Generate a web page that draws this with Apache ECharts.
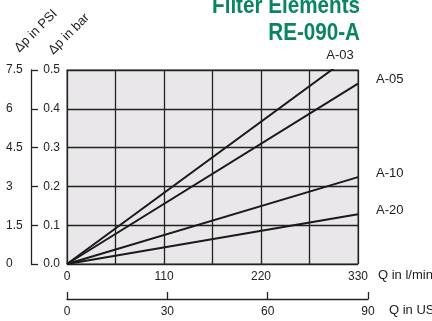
<!DOCTYPE html>
<html>
<head>
<meta charset="utf-8">
<script src="https://cdn.jsdelivr.net/npm/echarts@6/dist/echarts.min.js"></script>
<style>
  html, body { margin: 0; padding: 0; background: #fff; }
  #chart { width: 432px; height: 321px; }
</style>
</head>
<body>
<div id="chart"></div>
<script>
// flow in l/min, pressure drop in bar (straight lines from origin)
const seriesNames = ['A-03', 'A-05', 'A-10', 'A-20'];
const flowPoints = [0, 330];
const dpA03 = [0, 0.55];
const dpA05 = [0, 0.465];
const dpA10 = [0, 0.224];
const dpA20 = [0, 0.128];

const psiTicks = [0, 1.5, 3, 4.5, 6, 7.5];
const gpmTicks = [0, 30, 60, 90];

const font = '"Liberation Sans", Arial, sans-serif';
const green = '#0b8464';

const chart = echarts.init(document.getElementById('chart'));

function pairs(ys) {
  return flowPoints.map((x, i) => [x, ys[i]]);
}

const allDp = [dpA03, dpA05, dpA10, dpA20];

const option = {
  animation: false,
  textStyle: { fontFamily: font },
  grid: [
    {
      left: 67, right: 74, top: 70, bottom: 57, outerBoundsMode: 'none',
      show: true, backgroundColor: '#e9e7e9', borderColor: '#7a7a7a', borderWidth: 1.5
    },
    { left: 67, right: 64, top: 70, bottom: 22, outerBoundsMode: 'none' }
  ],
  xAxis: [
    {
      type: 'value', gridIndex: 0, min: 0, max: 330, interval: 55,
      name: 'Q in l/min', nameLocation: 'end', nameGap: 20,
      nameTextStyle: { fontSize: 13, color: '#222', fontFamily: font, verticalAlign: 'top', padding: [5, 0, 0, 0] },
      axisLine: { show: false }, axisTick: { show: false },
      splitLine: { lineStyle: { color: '#222', width: 1.3 } },
      axisLabel: {
        fontSize: 12, color: '#222', margin: 7,
        formatter: v => (v % 110 === 0 ? String(v) : '')
      }
    },
    {
      type: 'value', gridIndex: 1, min: 0, max: 90, interval: 30,
      name: 'Q in US GPM', nameLocation: 'end', nameGap: 21,
      nameTextStyle: { fontSize: 13, color: '#222', fontFamily: font, verticalAlign: 'top', padding: [5, 0, 0, 0] },
      axisLine: { show: true, lineStyle: { color: '#222', width: 1.3 } },
      axisTick: { show: true, inside: true, length: 7, lineStyle: { color: '#222', width: 1.3 } },
      splitLine: { show: false },
      axisLabel: { fontSize: 12, color: '#222', margin: 7 }
    }
  ],
  yAxis: [
    {
      type: 'value', gridIndex: 0, min: 0, max: 0.5, interval: 0.1,
      axisLine: { show: false }, axisTick: { show: false },
      splitLine: { lineStyle: { color: '#222', width: 1.3 } },
      axisLabel: { fontSize: 12, color: '#222', margin: 7, formatter: v => v.toFixed(1) }
    },
    {
      type: 'value', gridIndex: 0, min: 0, max: 7.5, interval: 1.5,
      position: 'left', offset: 36,
      axisLine: { show: true, lineStyle: { color: '#222', width: 1.3 } },
      axisTick: { show: true, inside: true, length: 7, lineStyle: { color: '#222', width: 1.3 } },
      splitLine: { show: false },
      axisLabel: {
        fontSize: 12, color: '#222', margin: 25, align: 'left',
        formatter: v => (psiTicks.includes(v) ? String(v) : '')
      }
    },
    { type: 'value', gridIndex: 1, show: false, min: 0, max: 1 }
  ],
  series: seriesNames.map((name, i) => ({
    name: name,
    type: 'line',
    xAxisIndex: 0, yAxisIndex: 0,
    data: pairs(allDp[i]),
    symbol: 'none',
    clip: true,
    lineStyle: { color: '#1a1a1a', width: 2 },
    endLabel: {
      show: i > 0,
      formatter: name,
      fontSize: 13, color: '#222', fontFamily: font,
      distance: 18, offset: [0, -4]
    }
  })).concat([{
    type: 'line', xAxisIndex: 1, yAxisIndex: 2,
    data: gpmTicks.map(v => [v, 0]), symbol: 'none', lineStyle: { opacity: 0 }, silent: true
  }]),
  graphic: [
    {
      type: 'text', x: 360, y: 18, scaleX: 0.86, scaleY: 1,
      style: { text: 'Filter Elements', font: 'bold 24px ' + font, fill: green, align: 'right', verticalAlign: 'bottom' }
    },
    {
      type: 'text', x: 360, y: 45, scaleX: 0.86, scaleY: 1,
      style: { text: 'RE-090-A', font: 'bold 24px ' + font, fill: green, align: 'right', verticalAlign: 'bottom' }
    },
    {
      type: 'text', x: 340, y: 55,
      style: { text: 'A-03', font: '13px ' + font, fill: '#222', align: 'center', verticalAlign: 'middle' }
    },
    {
      type: 'text', x: 36, y: 31, rotation: Math.PI / 4,
      style: { text: 'Δp in PSI', font: '13px ' + font, fill: '#222', align: 'center', verticalAlign: 'middle' }
    },
    {
      type: 'text', x: 69, y: 34, rotation: Math.PI / 4,
      style: { text: 'Δp in bar', font: '13px ' + font, fill: '#222', align: 'center', verticalAlign: 'middle' }
    }
  ]
};

chart.setOption(option);
</script>
</body>
</html>
